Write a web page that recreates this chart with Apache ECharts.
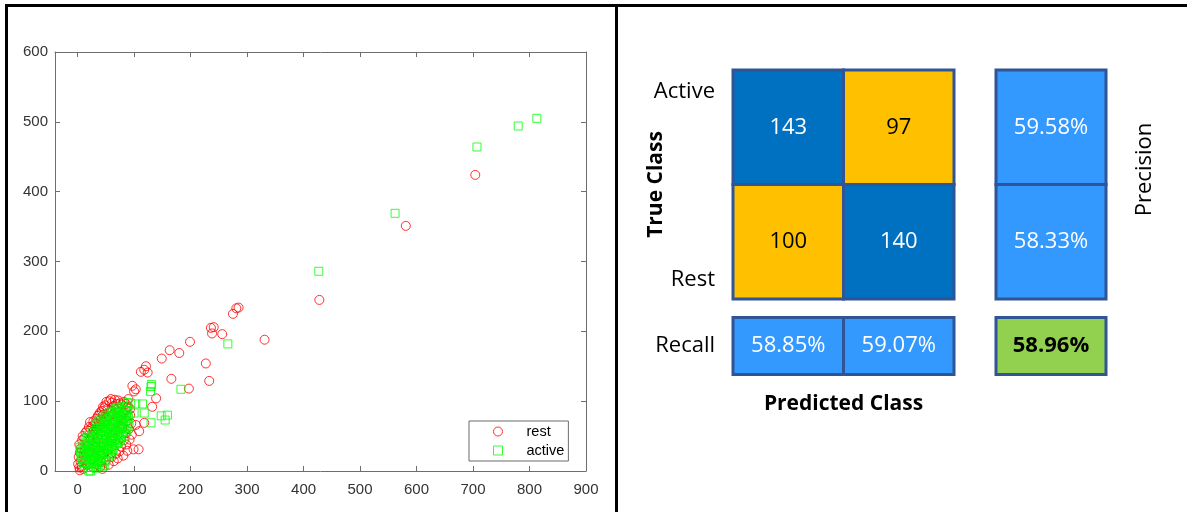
<!DOCTYPE html>
<html>
<head>
<meta charset="utf-8">
<script src="https://cdn.jsdelivr.net/npm/echarts@6/dist/echarts.min.js"></script>
<style>
  html, body { margin: 0; padding: 0; background: #ffffff; }
  #chart { width: 1187px; height: 512px; }
</style>
</head>
<body>
<div id="chart"></div>
<script>
// ---- Feature scatter: one point per trial, [feature 1, feature 2] ----
const restPoints = [
  [704,424],[581,351],[428,245],[331,188],[275,225],[281,233],[285,234],[236,205],[241,206],
  [238,197],[256,196],[227,154],[233,129],[199,185],[197,118],[180,169],[163,173],[149,161],
  [166,132],[121,150],[118,145],[124,141],[112,142],[139,104],[132,92],[118,69],[97,122],
  [100,114],[103,117],
  [1,10],[3,5],[5,14],[4,1],[7,7],[10,3],[2,20],[4,26],[6,33],[3,38],[8,44],[9,50],[12,47],
  [14,55],[17,58],[20,63],[23,60],[26,64],[22,70],[28,71],[31,68],[33,75],[36,79],[38,81],
  [41,74],[43,86],[45,80],[47,90],[49,94],[51,99],[53,89],[56,100],[59,103],[61,98],[64,93],
  [66,102],[69,96],[72,101],[75,97],[78,95],[82,99],[86,96],[90,103],[93,89],[46,71],[39,66],
  [34,60],[29,52],
  [96,52],[88,29],[99,31],[108,31],[74,28],[82,44],[77,35],[68,25],[60,20],[51,16],[42,13],
  [35,9],[28,5],[44,3],[40,6],[55,9],[64,14],[71,18],[81,22],[86,38],[92,45],[91,60],[95,68],
  [103,66],[109,57],[85,54],[79,62],[87,72],[93,80],
  [11,22],[15,15],[18,9],[21,27],[24,17],[30,21],[32,41],[26,36],[29,57],[35,47],[40,53],
  [44,62],[48,67],[52,73],[55,79],[58,85],[63,81],[67,71],[71,76],[75,80],[13,31],[19,36],
  [23,44],[31,33],[37,29],[41,22],[47,25],[53,31],[58,43],[62,51],[67,58],[73,64],[77,73],
  [81,83],[85,87],[89,92],[40,84],[45,92]
];

const activePoints = [
  [813,505],[780,494],[707,464],[562,369],[427,286],[266,182],[183,117],[131,124],[130,121],
  [129,114],[159,80],[148,79],[155,73],[130,69],[115,96],[103,96],[118,83],[100,83],[94,97],
  [88,98],[69,91],[70,83],[49,79],
  [12,8],[15,12],[18,5],[20,0],[23,0],[22,9],[25,14],[28,6],[30,11],[33,4],[35,15],[38,9],
  [40,13],[44,6],[47,8],[42,18],[9,16],[6,22],[5,28],[8,31],[4,34],[11,25],[14,19],[17,24],
  [20,17],[24,21],[27,27],[29,19],[32,24],[36,21],[39,26],[43,23],[46,29],[50,19],[52,26],
  [48,34],[55,31],[58,24],[60,36],[62,29],
  [10,36],[13,40],[15,33],[18,29],[21,36],[24,31],[26,42],[29,37],[31,45],[34,33],[37,40],
  [40,35],[42,47],[45,41],[47,52],[50,44],[53,39],[56,47],[58,54],[61,43],[64,50],[66,38],
  [68,57],[70,46],[72,41],[74,52],[76,60],[78,48],[80,55],[82,64],
  [15,47],[18,44],[20,51],[23,48],[26,55],[28,50],[31,58],[33,53],[36,61],[38,56],[41,63],
  [44,58],[46,66],[49,61],[51,69],[54,64],[57,71],[59,60],[62,67],[65,74],[67,63],[70,70],
  [73,66],[75,76],[77,71],[80,68],[83,77],[85,72],[87,80],[84,61],
  [33,66],[36,70],[39,73],[42,68],[45,76],[48,72],[50,80],[53,75],[56,83],[58,78],[61,85],
  [64,80],[66,88],[69,84],[72,90],[74,86],[77,92],[79,83],[82,88],[86,93],[88,86],[90,78],
  [89,70],[91,64],[87,57],[85,50],
  [25,26],[31,29],[35,27],[41,39],[44,46],[51,49],[54,56],[61,59],[64,66],[71,61],[27,34],
  [34,37],[37,45],[43,51],[49,55],[52,61],[58,64],[63,71],[66,78],[73,80],
  [16,27],[19,38],[22,23],[26,18],[31,15],[36,12],[41,30],[46,36],[51,32],[56,40],[60,48],
  [63,56],[67,51],[71,55],[75,63],[79,74],[81,79],[57,35],[62,44],[66,45],[69,40],[73,48],
  [76,44],[64,33],[55,20],[49,14],[44,26],[12,30],[7,18],[10,12]
];

const seriesNames = ['rest', 'active'];
const xTickValues = [0, 100, 200, 300, 400, 500, 600, 700, 800, 900];
const yTickValues = [0, 100, 200, 300, 400, 500, 600];

// ---- Classification result: rows = true class, columns = predicted class ----
const classNames = ['Active', 'Rest'];
const confusion = [
  [143, 97],
  [100, 140]
];

// Derived metrics (row-wise precision, column-wise recall, overall accuracy)
const rowTotals = confusion.map(r => r.reduce((a, b) => a + b, 0));
const colTotals = classNames.map((_, j) => confusion.reduce((a, r) => a + r[j], 0));
const grandTotal = rowTotals.reduce((a, b) => a + b, 0);
const precisionVals = confusion.map((r, i) => r[i] / rowTotals[i]);
const recallVals = classNames.map((_, j) => confusion[j][j] / colTotals[j]);
const accuracyVal = confusion.reduce((a, r, i) => a + r[i], 0) / grandTotal;
const pct = v => (v * 100).toFixed(2) + '%';

const COLORS = {
  hit: '#0070C0',
  miss: '#FFC000',
  metric: '#3399FF',
  overall: '#92D050',
  edge: '#2F5597'
};
const CELL_FONT = '"Open Sans", "Noto Sans", sans-serif';
const AXIS_FONT = '"Liberation Sans", Arial, sans-serif';

// Cell records for each block of the table
const matrixCells = [];
confusion.forEach((row, i) => row.forEach((count, j) => {
  matrixCells.push({ value: [j, i, count], fill: i === j ? COLORS.hit : COLORS.miss,
    text: String(count), textColor: i === j ? '#ffffff' : '#000000', bold: false });
}));
const precisionCells = precisionVals.map((v, i) => ({ value: [0, i, v], fill: COLORS.metric,
  text: pct(v), textColor: '#ffffff', bold: false }));
const recallCells = recallVals.map((v, j) => ({ value: [j, 0, v], fill: COLORS.metric,
  text: pct(v), textColor: '#ffffff', bold: false }));
const overallCells = [{ value: [0, 0, accuracyVal], fill: COLORS.overall,
  text: pct(accuracyVal), textColor: '#000000', bold: true }];

function cellRenderer(cells) {
  return function (params, api) {
    const c = cells[params.dataIndex];
    const center = api.coord([api.value(0), api.value(1)]);
    const size = api.size([1, 1]);
    return {
      type: 'rect',
      shape: { x: center[0] - size[0] / 2, y: center[1] - size[1] / 2, width: size[0], height: size[1] },
      style: { fill: c.fill, stroke: COLORS.edge, lineWidth: 3 },
      textContent: {
        style: { text: c.text, fill: c.textColor, fontSize: 22, fontFamily: CELL_FONT,
          fontWeight: c.bold ? 'bold' : 'normal' }
      },
      textConfig: { position: 'inside' }
    };
  };
}

function hiddenCategory(gridIndex, data, extra) {
  return Object.assign({
    gridIndex: gridIndex, type: 'category', data: data,
    axisLine: { show: false }, axisTick: { show: false }, axisLabel: { show: false },
    splitLine: { show: false }, nameMoveOverlap: false
  }, extra || {});
}

const axisGray = '#6e6e6e';
const tickCommon = { show: true, inside: true, length: 5, lineStyle: { color: axisGray, width: 1 } };
const labelCommon = { color: '#333333', fontSize: 15, fontFamily: AXIS_FONT };

const chart = echarts.init(document.getElementById('chart'), null, { renderer: 'canvas' });

chart.setOption({
  animation: false,
  backgroundColor: '#ffffff',
  grid: [
    { left: 55, right: 601, top: 52, bottom: 41, outerBoundsMode: 'none' },
    { left: 733, top: 70, width: 221, height: 229, outerBoundsMode: 'none' },
    { left: 996, top: 70, width: 110, height: 229, outerBoundsMode: 'none' },
    { left: 733, top: 317.5, width: 221, height: 57, outerBoundsMode: 'none' },
    { left: 996, top: 317.5, width: 110, height: 57, outerBoundsMode: 'none' }
  ],
  xAxis: [
    { gridIndex: 0, type: 'value', min: -40, max: 900, position: 'bottom',
      axisLine: { show: true, onZero: false, lineStyle: { color: axisGray, width: 1 } },
      axisTick: Object.assign({ customValues: xTickValues }, tickCommon),
      axisLabel: Object.assign({ customValues: xTickValues, margin: 11 }, labelCommon),
      splitLine: { show: false } },
    { gridIndex: 0, type: 'value', min: -40, max: 900, position: 'top',
      axisLine: { show: true, onZero: false, lineStyle: { color: axisGray, width: 1 } },
      axisTick: Object.assign({ customValues: xTickValues }, tickCommon),
      axisLabel: { show: false }, splitLine: { show: false } },
    hiddenCategory(1, classNames),
    hiddenCategory(2, ['all']),
    hiddenCategory(3, classNames, {
      name: 'Predicted Class', nameLocation: 'middle', nameGap: 19,
      nameTextStyle: { fontFamily: CELL_FONT, fontSize: 21, fontWeight: 'bold', color: '#000000' }
    }),
    hiddenCategory(4, ['all'])
  ],
  yAxis: [
    { gridIndex: 0, type: 'value', min: 0, max: 600, interval: 100, position: 'left',
      axisLine: { show: true, onZero: false, lineStyle: { color: axisGray, width: 1 } },
      axisTick: Object.assign({ customValues: yTickValues }, tickCommon),
      axisLabel: Object.assign({ customValues: yTickValues, margin: 7 }, labelCommon),
      splitLine: { show: false } },
    { gridIndex: 0, type: 'value', min: 0, max: 600, interval: 100, position: 'right',
      axisLine: { show: true, onZero: false, lineStyle: { color: axisGray, width: 1 } },
      axisTick: Object.assign({ customValues: yTickValues }, tickCommon),
      axisLabel: { show: false }, splitLine: { show: false } },
    hiddenCategory(1, classNames, {
      inverse: true,
      axisLabel: {
        show: true, margin: 18, color: '#000000', fontSize: 22, fontFamily: CELL_FONT,
        formatter: (v, i) => (i === 0 ? '{up|' + v + '}' : '{down|' + v + '}'),
        rich: {
          up: { padding: [0, 0, 72, 0], fontSize: 22, fontFamily: CELL_FONT, color: '#000000' },
          down: { padding: [76, 0, 0, 0], fontSize: 22, fontFamily: CELL_FONT, color: '#000000' }
        }
      },
      name: 'True Class', nameLocation: 'middle', nameRotate: 90, nameGap: 66,
      nameTextStyle: { fontFamily: CELL_FONT, fontSize: 21, fontWeight: 'bold', color: '#000000' }
    }),
    hiddenCategory(2, classNames, {
      inverse: true, position: 'right',
      name: 'Precision', nameLocation: 'middle', nameRotate: 90, nameGap: 28,
      nameTextStyle: { fontFamily: CELL_FONT, fontSize: 22, color: '#000000', padding: [0, 0, 0, 30] }
    }),
    hiddenCategory(3, ['Recall'], {
      axisLabel: { show: true, margin: 18, color: '#000000', fontSize: 22, fontFamily: CELL_FONT }
    }),
    hiddenCategory(4, ['all'])
  ],
  legend: {
    data: seriesNames,
    orient: 'vertical',
    left: 469, top: 421,
    padding: [3, 4, 3, 24],
    itemGap: 4,
    itemWidth: 9, itemHeight: 9,
    backgroundColor: '#ffffff',
    borderColor: '#6b6b6b', borderWidth: 1, borderRadius: 0,
    selectedMode: false,
    itemStyle: { borderWidth: 1 },
    formatter: name => '{t|' + name + '}',
    textStyle: {
      color: '#000000', fontSize: 14.5, fontFamily: AXIS_FONT,
      rich: { t: { padding: [0, 0, 0, 19], fontSize: 14.5, fontFamily: AXIS_FONT, color: '#000000' } }
    }
  },
  series: [
    { name: 'rest', type: 'scatter', xAxisIndex: 0, yAxisIndex: 0, data: restPoints,
      symbol: 'circle', symbolSize: 9,
      itemStyle: { color: 'rgba(255,255,255,0)', borderColor: '#ff0000', borderWidth: 1 } },
    { name: 'active', type: 'scatter', xAxisIndex: 0, yAxisIndex: 0, data: activePoints,
      symbol: 'rect', symbolSize: 8,
      itemStyle: { color: 'rgba(255,255,255,0)', borderColor: '#00ff00', borderWidth: 1 } },
    { type: 'custom', xAxisIndex: 2, yAxisIndex: 2, data: matrixCells.map(c => c.value),
      renderItem: cellRenderer(matrixCells) },
    { type: 'custom', xAxisIndex: 3, yAxisIndex: 3, data: precisionCells.map(c => c.value),
      renderItem: cellRenderer(precisionCells) },
    { type: 'custom', xAxisIndex: 4, yAxisIndex: 4, data: recallCells.map(c => c.value),
      renderItem: cellRenderer(recallCells) },
    { type: 'custom', xAxisIndex: 5, yAxisIndex: 5, data: overallCells.map(c => c.value),
      renderItem: cellRenderer(overallCells) }
  ],
  // Panel frame: top rule, left rule and the divider between the two panels
  graphic: [
    { type: 'rect', shape: { x: 5, y: 4, width: 1182, height: 3 }, style: { fill: '#000000' } },
    { type: 'rect', shape: { x: 5, y: 4, width: 3, height: 508 }, style: { fill: '#000000' } },
    { type: 'rect', shape: { x: 615, y: 4, width: 3, height: 508 }, style: { fill: '#000000' } }
  ]
});
</script>
</body>
</html>
